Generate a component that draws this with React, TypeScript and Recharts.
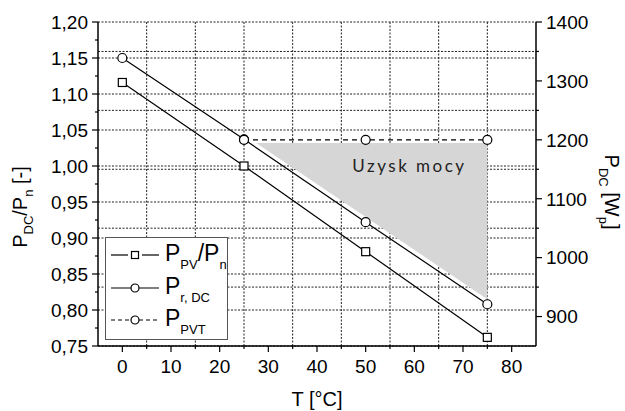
import {
  ComposedChart, Line, Area, XAxis, YAxis, CartesianGrid, Legend, Label, ReferenceDot,
} from 'recharts'

const FONT = '"Liberation Sans", Arial, sans-serif'

// measured points, module temperature [°C]
const temps = [0, 25, 50, 75]
const pvRatio = [1.116, 1.0, 0.881, 0.762]
const rDcRatio = [1.15, 1.037, 0.922, 0.808]

// PVT module keeps its output above 25 °C [W]
const pvtTemps = [25, 50, 75]
const pvtPower = [1200, 1200, 1200]

// shaded power-gain band (between PVT level and P_r,DC)
const gainTemps = [27.5, 75]
const gainTop = [1.032, 1.032]
const gainBottom = [1.032, 0.815]

// axis ticks
const xMajor = [0, 10, 20, 30, 40, 50, 60, 70, 80]
const xMinor = [5, 15, 25, 35, 45, 55, 65, 75]
const leftMajor = [0.75, 0.8, 0.85, 0.9, 0.95, 1.0, 1.05, 1.1, 1.15, 1.2]
const leftMinor = [0.775, 0.825, 0.875, 0.925, 0.975, 1.025, 1.075, 1.125, 1.175]
const rightMajor = [900, 1000, 1100, 1200, 1300, 1400]
const rightMinor = [950, 1050, 1150, 1250, 1350]

const allTemps = [...new Set([...temps, ...pvtTemps, ...gainTemps])].sort((a, b) => a - b)
const rows = allTemps.map(t => {
  const i = temps.indexOf(t)
  const j = pvtTemps.indexOf(t)
  const k = gainTemps.indexOf(t)
  return {
    t,
    pv: i >= 0 ? pvRatio[i] : null,
    rdc: i >= 0 ? rDcRatio[i] : null,
    pvt: j >= 0 ? pvtPower[j] : null,
    gain: k >= 0 ? [gainBottom[k], gainTop[k]] : null,
  }
})

const tickText = { fontSize: 19, fontFamily: FONT, fill: '#000' }
const comma = (v: number) => v.toFixed(2).replace('.', ',')

function LeftTick({ x, y, payload }: any) {
  const major = leftMajor.includes(payload.value)
  return (
    <g>
      <line x1={x} x2={x - (major ? 6 : 3)} y1={y} y2={y} stroke="#000" strokeWidth={1.2} />
      {major && (
        <text x={x - 10} y={y} dy="0.36em" textAnchor="end" {...tickText}>{comma(payload.value)}</text>
      )}
    </g>
  )
}

function RightTick({ x, y, payload }: any) {
  const major = rightMajor.includes(payload.value)
  return (
    <g>
      <line x1={x} x2={x + (major ? 6 : 3)} y1={y} y2={y} stroke="#000" strokeWidth={1.2} />
      {major && (
        <text x={x + 10} y={y} dy="0.36em" textAnchor="start" {...tickText}>{payload.value}</text>
      )}
    </g>
  )
}

function BottomTick({ x, y, payload }: any) {
  const major = xMajor.includes(payload.value)
  return (
    <g>
      <line x1={x} x2={x} y1={y} y2={y + (major ? 6 : 3)} stroke="#000" strokeWidth={1.2} />
      {major && (
        <text x={x} y={y + 27} textAnchor="middle" {...tickText}>{payload.value}</text>
      )}
    </g>
  )
}

function LeftTitle({ viewBox }: any) {
  const x = viewBox.x - 11
  const y = viewBox.y + viewBox.height / 2 + 23
  return (
    <text x={x} y={y} transform={`rotate(-90 ${x} ${y})`} textAnchor="middle"
      fontSize={20} fontFamily={FONT} fill="#000">
      P<tspan fontSize={13} dy={6}>DC</tspan><tspan dy={-6}>/P</tspan>
      <tspan fontSize={13} dy={6}>n</tspan><tspan dy={-6}> [-]</tspan>
    </text>
  )
}

function RightTitle({ viewBox }: any) {
  const x = viewBox.x + 69
  const y = viewBox.y + viewBox.height / 2 + 8
  return (
    <text x={x} y={y} transform={`rotate(90 ${x} ${y})`} textAnchor="middle"
      fontSize={20} fontFamily={FONT} fill="#000">
      P<tspan fontSize={13} dy={6}>DC</tspan><tspan dy={-6}> [W</tspan>
      <tspan fontSize={13} dy={6}>p</tspan><tspan dy={-6}>]</tspan>
    </text>
  )
}

function BottomTitle({ viewBox }: any) {
  return (
    <text x={viewBox.x + viewBox.width / 2} y={viewBox.y + 60} textAnchor="middle"
      fontSize={20} fontFamily={FONT} fill="#000">
      T [°C]
    </text>
  )
}

function GainLabel({ viewBox }: any) {
  return (
    <text x={viewBox.x} y={viewBox.y} dy="0.36em" textAnchor="middle"
      fontSize={17} fontFamily="Lato, sans-serif" letterSpacing={2.5} fill="#222">
      Uzysk mocy
    </text>
  )
}

const squareDot = (p: any) =>
  p.cy == null ? <g key={p.index} /> : (
    <rect key={p.index} x={p.cx - 4} y={p.cy - 4} width={8} height={8}
      fill="#fff" stroke="#000" strokeWidth={1.2} />
  )
// solid outline even on the dashed series
const circleDot = { r: 4.5, fill: '#fff', stroke: '#000', strokeWidth: 1.2, strokeDasharray: 'none' }

function subStyle() {
  return { fontSize: 13, verticalAlign: 'baseline', position: 'relative' as const, top: 8 }
}

const legendRows = [
  { key: 'pv', marker: 'square', dash: undefined, label: <>P<sub style={subStyle()}>PV</sub>/P<sub style={subStyle()}>n</sub></> },
  { key: 'rdc', marker: 'circle', dash: undefined, label: <>P<sub style={subStyle()}>r, DC</sub></> },
  { key: 'pvt', marker: 'circle', dash: '4 3', label: <>P<sub style={subStyle()}>PVT</sub></> },
]

function LegendBox() {
  return (
    <div style={{
      position: 'relative', width: 123, height: 103, boxSizing: 'border-box',
      border: '1.5px solid #555', background: '#fff', fontFamily: FONT,
    }}>
      {legendRows.map((r, i) => (
        <div key={r.key} style={{
          position: 'absolute', left: 5, top: 1 + i * 32.5, height: 32,
          display: 'flex', alignItems: 'center', whiteSpace: 'nowrap',
        }}>
          <svg width={48} height={20} style={{ display: 'block' }}>
            {r.marker === 'square' ? (
              <>
                <line x1={0} x2={17} y1={10} y2={10} stroke="#000" strokeWidth={1.2} />
                <line x1={31} x2={48} y1={10} y2={10} stroke="#000" strokeWidth={1.2} />
                <rect x={20.5} y={6.5} width={7} height={7} fill="#fff" stroke="#000" strokeWidth={1.2} />
              </>
            ) : (
              <>
                <line x1={0} x2={48} y1={10} y2={10} stroke="#000" strokeWidth={1.2} strokeDasharray={r.dash} />
                <circle cx={24} cy={10} r={4} fill="#fff" stroke="#000" strokeWidth={1.2} />
              </>
            )}
          </svg>
          <span style={{ fontSize: 23, marginLeft: 6, lineHeight: '22px' }}>{r.label}</span>
        </div>
      ))}
    </div>
  )
}

const axisLine = { stroke: '#000', strokeWidth: 1.5 }
const gridProps = { stroke: '#222', strokeDasharray: '2 1.5', strokeWidth: 1 }

export default function App() {
  return (
    <div style={{ position: 'absolute', left: 0, top: 0, width: 625, height: 411, background: '#fff' }}>
      <ComposedChart width={625} height={411} data={rows}
        margin={{ top: 22, right: 29, bottom: 25, left: 38 }}>
        <XAxis xAxisId="b" dataKey="t" type="number" domain={[-5, 85]}
          ticks={[...xMajor, ...xMinor]} interval={0} height={40}
          tickLine={false} tickSize={0} tickMargin={0} tick={BottomTick} axisLine={axisLine}
          label={<Label content={BottomTitle} />} />
        <XAxis xAxisId="top" dataKey="t" orientation="top" type="number" domain={[-5, 85]}
          ticks={xMajor} interval={0} mirror height={0} tick={false} tickSize={5}
          tickLine={{ stroke: '#000', strokeWidth: 1.2 }} axisLine={axisLine} />
        <YAxis yAxisId="left" type="number" domain={[0.75, 1.2]} width={60}
          ticks={[...leftMajor, ...leftMinor]} interval={0}
          tickLine={false} tickSize={0} tickMargin={0} tick={LeftTick} axisLine={axisLine}
          label={<Label content={LeftTitle} />} />
        <YAxis yAxisId="right" orientation="right" type="number" domain={[850, 1400]} width={60}
          ticks={[...rightMajor, ...rightMinor]} interval={0}
          tickLine={false} tickSize={0} tickMargin={0} tick={RightTick} axisLine={axisLine}
          label={<Label content={RightTitle} />} />

        <CartesianGrid xAxisId="b" yAxisId="left" vertical={false} horizontalValues={leftMajor} {...gridProps} />
        <CartesianGrid xAxisId="b" yAxisId="right" vertical={false} horizontalValues={rightMinor} {...gridProps} />
        <CartesianGrid xAxisId="b" yAxisId="left" horizontal={false} verticalValues={xMinor} {...gridProps} />

        <Area xAxisId="top" yAxisId="left" dataKey="gain" connectNulls
          fill="#d6d6d6" fillOpacity={1} stroke="none" isAnimationActive={false} />

        <Line xAxisId="b" yAxisId="left" dataKey="pv" connectNulls stroke="#000" strokeWidth={1.2}
          dot={squareDot} activeDot={false} isAnimationActive={false} />
        <Line xAxisId="b" yAxisId="left" dataKey="rdc" connectNulls stroke="#000" strokeWidth={1.2}
          dot={circleDot} activeDot={false} isAnimationActive={false} />
        <Line xAxisId="b" yAxisId="right" dataKey="pvt" connectNulls stroke="#000" strokeWidth={1.2}
          strokeDasharray="5 4" dot={circleDot} activeDot={false} isAnimationActive={false} />

        <ReferenceDot xAxisId="b" yAxisId="left" x={59} y={1.0} r={0} stroke="none"
          label={<Label content={GainLabel} />} />

        <Legend layout="vertical" align="center" verticalAlign="middle"
          wrapperStyle={{ left: 105, top: 237, width: 123, height: 103 }}
          content={() => <LegendBox />} />
      </ComposedChart>
    </div>
  )
}
